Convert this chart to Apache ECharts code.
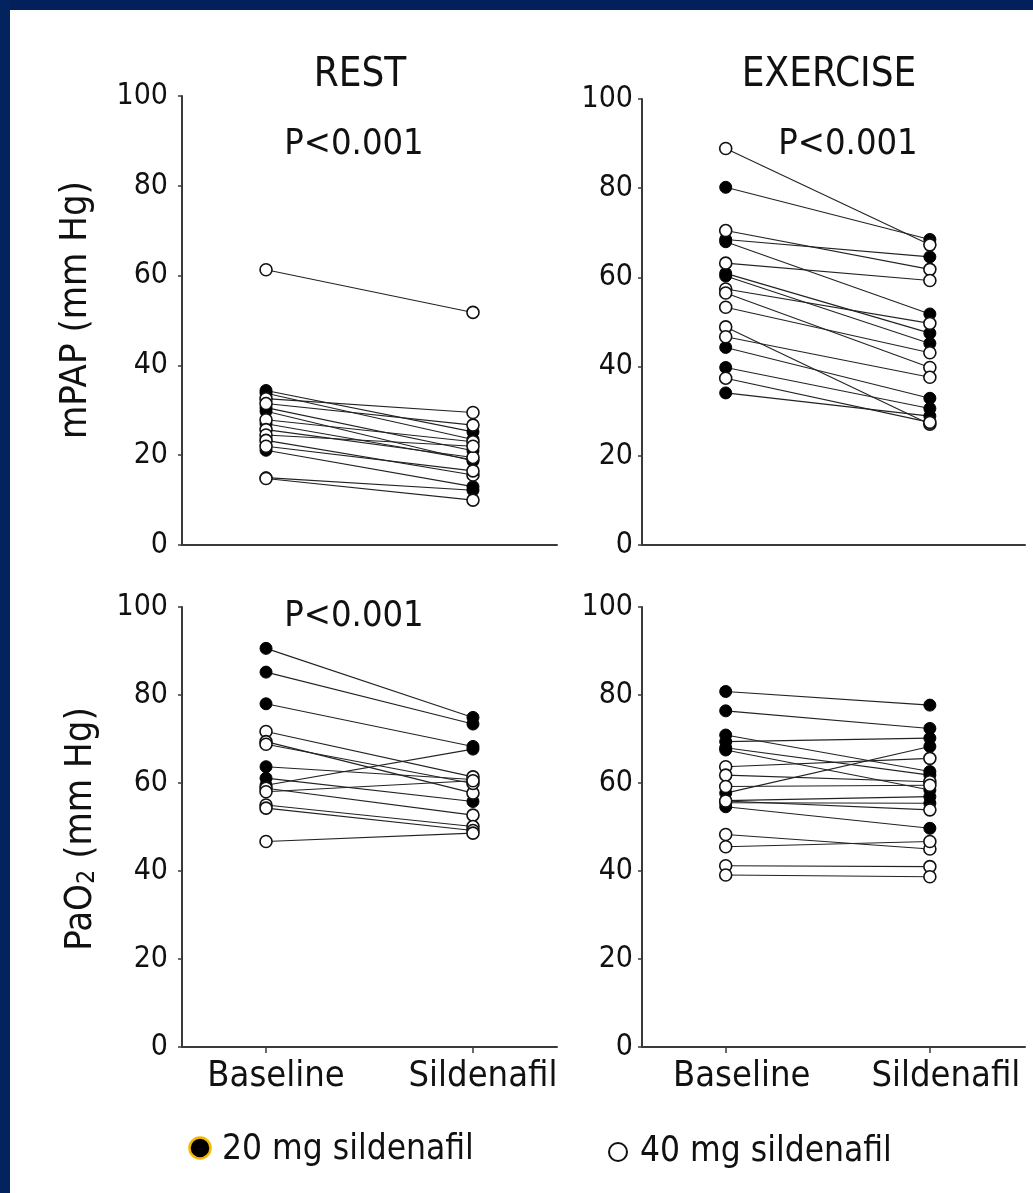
<!DOCTYPE html>
<html>
<head>
<meta charset="utf-8">
<script src="https://cdn.jsdelivr.net/npm/echarts@6/dist/echarts.min.js"></script>
<style>
  html, body { margin: 0; padding: 0; background: #fff; }
  #chart { width: 1033px; height: 1193px; }
</style>
</head>
<body>
<div id="chart"></div>
<script>
var FONT = '"DejaVu Sans Condensed", "Liberation Sans Narrow", "Liberation Sans", sans-serif';

var xLabels = ['Baseline', 'Sildenafil'];
var yTicks = [0, 20, 40, 60, 80, 100];

// mPAP at rest
var restPapBase20 = [34.4, 33.8, 30.6, 29.8, 27.0, 21.1, 15.0];
var restPapSil20  = [25.2, 23.5, 21.0, 18.7, 19.0, 13.0, 12.2];
var restPapBase40 = [61.3, 32.6, 31.5, 27.9, 25.7, 24.5, 23.3, 22.0, 14.8];
var restPapSil40  = [51.8, 29.5, 26.7, 23.0, 19.5, 22.0, 15.6, 16.5, 10.0];

// mPAP during exercise
var exPapBase20 = [80.2, 68.5, 68.0, 60.9, 60.3, 44.3, 39.8, 34.1];
var exPapSil20  = [68.5, 64.6, 51.8, 47.5, 45.2, 32.9, 30.6, 28.9];
var exPapBase40 = [88.9, 70.5, 63.2, 57.4, 56.5, 53.3, 48.9, 46.7, 37.4];
var exPapSil40  = [67.3, 61.8, 59.3, 49.7, 39.8, 43.1, 27.1, 37.6, 27.5];

// PaO2 at rest
var restPaoBase20 = [90.6, 85.2, 78.0, 63.7, 61.1, 59.5];
var restPaoSil20  = [74.9, 73.4, 68.3, 60.8, 55.8, 67.7];
var restPaoBase40 = [71.7, 69.4, 68.8, 58.8, 58.0, 55.0, 54.3, 46.7];
var restPaoSil40  = [61.4, 57.7, 59.9, 52.7, 60.5, 50.1, 49.2, 48.6];

// PaO2 during exercise
var exPaoBase20 = [80.8, 76.4, 70.9, 69.4, 68.0, 67.5, 57.7, 56.0, 55.5, 54.6];
var exPaoSil20  = [77.7, 72.4, 62.6, 70.2, 61.8, 58.4, 68.3, 56.9, 55.4, 49.7];
var exPaoBase40 = [63.7, 61.8, 59.2, 55.9, 48.3, 45.5, 41.2, 39.1];
var exPaoSil40  = [65.6, 60.3, 59.5, 53.9, 45.0, 46.7, 41.0, 38.7];

var panels = [
  { b20: restPapBase20, s20: restPapSil20, b40: restPapBase40, s40: restPapSil40 },
  { b20: exPapBase20,   s20: exPapSil20,   b40: exPapBase40,   s40: exPapSil40 },
  { b20: restPaoBase20, s20: restPaoSil20, b40: restPaoBase40, s40: restPaoSil40 },
  { b20: exPaoBase20,   s20: exPaoSil20,   b40: exPaoBase40,   s40: exPaoSil40 }
];

var chart = echarts.init(document.getElementById('chart'));

var grids = [
  { left: 182, top: 96,  width: 375, height: 449 },
  { left: 642, top: 99,  width: 383, height: 446 },
  { left: 182, top: 607, width: 375, height: 440 },
  { left: 642, top: 607, width: 383, height: 440 }
];

var xRange = [[-0.406, 1.406], [-0.41, 1.466], [-0.406, 1.406], [-0.41, 1.466]];
var labelPad = [20, 32, 20, 32];

var xAxes = grids.map(function (g, i) {
  var bottom = i >= 2;
  return {
    gridIndex: i, type: 'value', min: xRange[i][0], max: xRange[i][1],
    axisLine: { onZero: false, lineStyle: { color: '#3a3a3a', width: 2 } },
    axisTick: { show: bottom, customValues: [0, 1], length: 6, lineStyle: { color: '#3a3a3a', width: 1.5 } },
    axisLabel: {
      show: bottom, customValues: [0, 1], margin: 12,
      formatter: function (v) { return xLabels[Math.round(v)]; },
      fontFamily: FONT, fontSize: 36, color: '#111', padding: [0, 0, 0, labelPad[i]]
    },
    splitLine: { show: false }
  };
});

var yAxes = grids.map(function (g, i) {
  return {
    gridIndex: i, type: 'value', min: 0, max: 100, interval: 20,
    axisLine: { show: true, onZero: false, lineStyle: { color: '#3a3a3a', width: 2 } },
    axisTick: { show: true, length: 4, lineStyle: { color: '#3a3a3a', width: 1.5 } },
    axisLabel: {
      margin: i % 2 === 0 ? 14 : 9, fontFamily: FONT, fontSize: 30, color: '#111',
      formatter: function (v) { return yTicks.indexOf(v) >= 0 ? String(v) : ''; }
    },
    splitLine: { show: false }
  };
});

var series = [];
panels.forEach(function (p, i) {
  // connecting lines, one per patient
  [[p.b20, p.s20], [p.b40, p.s40]].forEach(function (pair) {
    pair[0].forEach(function (b, j) {
      series.push({
        type: 'line', xAxisIndex: i, yAxisIndex: i, silent: true,
        data: [[0, b], [1, pair[1][j]]],
        symbol: 'none', lineStyle: { color: '#222', width: 1.1 }, z: 2
      });
    });
  });
  var pts20 = p.b20.map(function (v) { return [0, v]; })
    .concat(p.s20.map(function (v) { return [1, v]; }));
  var pts40 = p.b40.map(function (v) { return [0, v]; })
    .concat(p.s40.map(function (v) { return [1, v]; }));
  series.push({
    type: 'scatter', xAxisIndex: i, yAxisIndex: i, data: pts20, symbolSize: 12, silent: true,
    itemStyle: { color: '#000', borderColor: '#000', borderWidth: 1, opacity: 1 }, z: 3
  });
  series.push({
    type: 'scatter', xAxisIndex: i, yAxisIndex: i, data: pts40, symbolSize: 12, silent: true,
    itemStyle: { color: '#fff', borderColor: '#111', borderWidth: 1.6, opacity: 1 }, z: 4
  });
});

function txt(text, x, y, size, extra) {
  var el = {
    type: 'text', x: x, y: y, z: 10,
    style: {
      text: text, fontFamily: FONT, fontSize: size, fill: '#111',
      textAlign: 'center', textVerticalAlign: 'middle'
    }
  };
  if (extra) Object.keys(extra).forEach(function (k) { el[k] = extra[k]; });
  return el;
}

var paoLabel = txt('{a|PaO}{s|2}{a| (mm Hg)}', 77, 829, 38, { rotation: Math.PI / 2 });
paoLabel.style.rich = {
  a: { fontFamily: FONT, fontSize: 38, fill: '#111', lineHeight: 46, verticalAlign: 'bottom' },
  s: { fontFamily: FONT, fontSize: 25, fill: '#111', lineHeight: 25, verticalAlign: 'bottom' }
};

var option = {
  backgroundColor: '#fff',
  animation: false,
  grid: grids,
  xAxis: xAxes,
  yAxis: yAxes,
  series: series,
  graphic: [
    // slide frame
    { type: 'rect', shape: { x: 0, y: 0, width: 1033, height: 10 }, style: { fill: '#03205c' }, z: 20 },
    { type: 'rect', shape: { x: 0, y: 0, width: 10, height: 1193 }, style: { fill: '#03235f' }, z: 20 },
    txt('REST', 360, 76, 40),
    txt('EXERCISE', 829, 76, 40),
    txt('P<0.001', 354, 145, 36),
    txt('P<0.001', 848, 145, 36),
    txt('P<0.001', 354, 617, 36),
    txt('mPAP (mm Hg)', 76, 310, 38, { rotation: Math.PI / 2 }),
    paoLabel,
    // legend
    { type: 'circle', shape: { cx: 200, cy: 1148, r: 10.5 }, style: { fill: '#000', stroke: '#f2b900', lineWidth: 2.5 }, z: 10 },
    {
      type: 'text', x: 222, y: 1150, z: 10,
      style: { text: '20 mg sildenafil', fontFamily: FONT, fontSize: 35, fill: '#111', textAlign: 'left', textVerticalAlign: 'middle' }
    },
    { type: 'circle', shape: { cx: 618, cy: 1152, r: 9 }, style: { fill: '#fff', stroke: '#111', lineWidth: 2 }, z: 10 },
    {
      type: 'text', x: 640, y: 1152, z: 10,
      style: { text: '40 mg sildenafil', fontFamily: FONT, fontSize: 35, fill: '#111', textAlign: 'left', textVerticalAlign: 'middle' }
    }
  ]
};

chart.setOption(option);
</script>
</body>
</html>
